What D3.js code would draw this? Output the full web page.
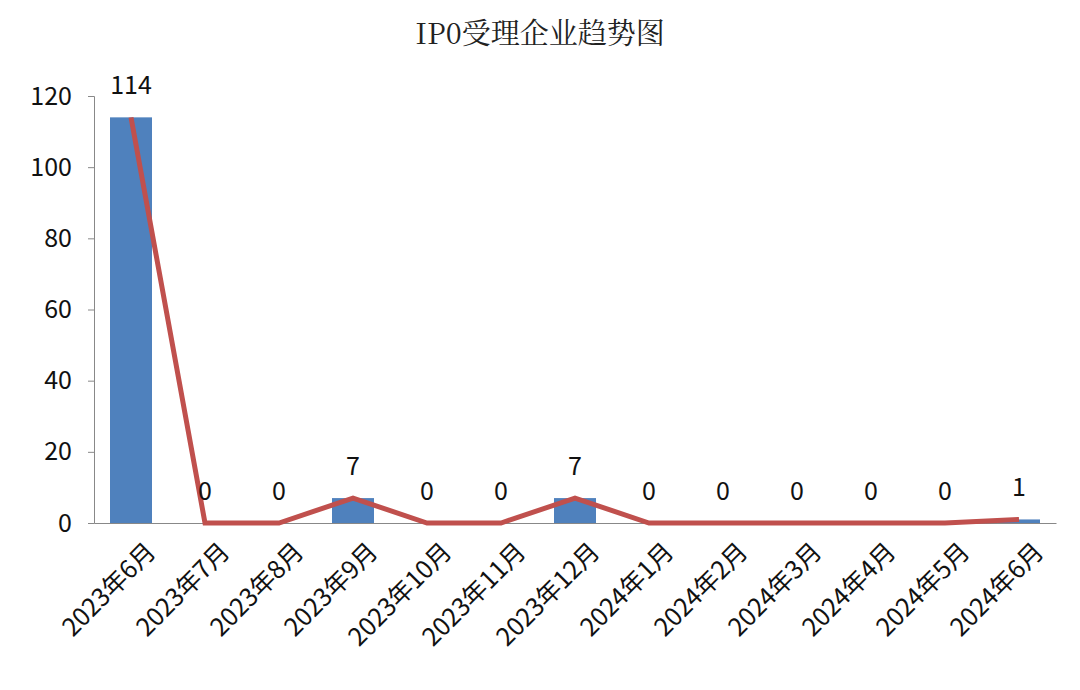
<!DOCTYPE html>
<html><head><meta charset="utf-8">
<script src="https://cdn.jsdelivr.net/npm/d3@7/dist/d3.min.js"></script>
<style>body{margin:0;background:#fff}</style></head>
<body><svg id="c" width="1080" height="690"></svg>
<script>
const categories=["2023年6月","2023年7月","2023年8月","2023年9月","2023年10月","2023年11月","2023年12月","2024年1月","2024年2月","2024年3月","2024年4月","2024年5月","2024年6月"];
const values=[114,0,0,7,0,0,7,0,0,0,0,0,1];
const yTicks=[0,20,40,60,80,100,120];
const svg=d3.select("#c");
const font="'Noto Sans CJK SC','Noto Sans',sans-serif";
const x=d3.scaleBand().domain(categories).range([94,1056]);
const y=d3.scaleLinear().domain([0,120]).range([523,96]);
svg.append("text").attr("x",540).attr("y",44).attr("text-anchor","middle").attr("font-family","'Noto Serif CJK SC','DejaVu Serif',serif").attr("font-size",29).attr("fill","#222").text("IP0受理企业趋势图");
svg.selectAll("rect.b").data(values).join("rect").attr("x",(d,i)=>x(categories[i])+x.bandwidth()/2-21).attr("width",42).attr("y",d=>y(d)).attr("height",d=>523-y(d)).attr("fill","#4F81BD");
const ya=svg.append("g").attr("transform","translate(94,0)").call(d3.axisLeft(y).tickValues(yTicks).tickSize(6).tickPadding(16));
ya.selectAll("text").attr("font-family",font).attr("font-size",25).attr("fill","#111");
ya.selectAll("line,path").attr("stroke","#888");
const xa=svg.append("g").attr("transform","translate(0,523)").call(d3.axisBottom(x).tickSize(0).tickSizeOuter(0));
xa.select("path").attr("stroke","#888");
xa.selectAll("text").attr("font-family",font).attr("font-size",25).attr("fill","#111").attr("text-anchor","end").attr("transform","translate(18,22) rotate(-45)").attr("dy","0.35em").attr("dx",0);
const line=d3.line().x((d,i)=>x(categories[i])+x.bandwidth()/2).y(d=>y(d));
svg.append("path").datum(values).attr("d",line).attr("fill","none").attr("stroke","#C0504D").attr("stroke-width",5);
svg.selectAll("text.l").data(values).join("text").attr("x",(d,i)=>x(categories[i])+x.bandwidth()/2).attr("y",d=>y(d)-23).attr("text-anchor","middle").attr("font-family",font).attr("font-size",25).attr("fill","#111").text(d=>d);
</script></body></html>
